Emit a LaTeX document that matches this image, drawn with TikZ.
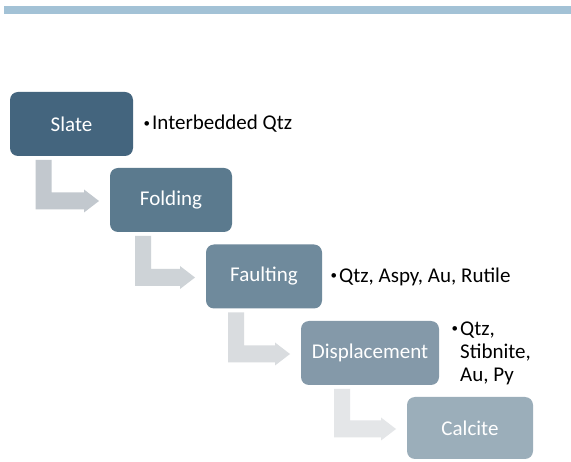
\documentclass[tikz,border=0pt]{standalone}
\usepackage{fontspec}
\setmainfont{Carlito}
\usepackage{xcolor}
\usetikzlibrary{calc,positioning}

\definecolor{topbar}{HTML}{A3C2D6}
\definecolor{stageA}{HTML}{44657E}
\definecolor{stageB}{HTML}{5B7A8E}
\definecolor{stageC}{HTML}{6F8A9C}
\definecolor{stageD}{HTML}{8499A9}
\definecolor{stageE}{HTML}{9BAEBA}
\definecolor{arrowA}{HTML}{C2C8CE}
\definecolor{arrowB}{HTML}{CED3D7}
\definecolor{arrowC}{HTML}{D9DCDF}
\definecolor{arrowD}{HTML}{E4E6E8}

% small list bullet
\newcommand{\mbul}{\raisebox{2.5pt}{\fontsize{13}{13}\selectfont\textbullet}\hspace{2pt}}

% bent step arrow: from box #1 down and across to box #2
\newcommand{\steparrow}[3]{%
  \fill[#3] let \p1=(#1.south), \p2=(#2.west) in
    (\x1-36pt,\y1-4pt) -- (\x1-36pt,\y2-9.5pt) -- (\x2-26pt,\y2-9.5pt)
    -- (\x2-26pt,\y2-12.5pt) -- (\x2-11pt,\y2-1pt) -- (\x2-26pt,\y2+10.5pt)
    -- (\x2-26pt,\y2+7.5pt) -- (\x1-20pt,\y2+7.5pt) -- (\x1-20pt,\y1-4pt) -- cycle;}

\begin{document}
\begin{tikzpicture}[
    x=1pt, y=-1pt,
    stage/.style={rectangle, rounded corners=8pt, minimum height=64pt, inner sep=0pt,
      outer sep=0pt, text=white, font=\fontsize{21}{23}\selectfont},
    note/.style={anchor=west, inner sep=0pt, align=left, font=\fontsize{21}{23}\selectfont}
]
\fill[white] (0,0) rectangle (571,462);
\useasboundingbox (0,0) rectangle (571,462);

% Header bar
\fill[topbar] (4,6) rectangle (571,14);

% Steps
\node[stage, fill=stageA, minimum width=123pt] (slate) at (71.5,124) {Slate};
\node[stage, fill=stageB, minimum width=122pt] (folding) at (171,200) {Folding};
\node[stage, fill=stageC, minimum width=116pt] (faulting) at (264,276.5) {Faulting};
\node[stage, fill=stageD, minimum width=138pt] (displacement) at (370,353) {Displacement};
\node[stage, fill=stageE, minimum width=126pt, minimum height=62pt] (calcite) at (470,428) {Calcite};

\steparrow{slate}{folding}{arrowA}
\steparrow{folding}{faulting}{arrowB}
\steparrow{faulting}{displacement}{arrowC}
\steparrow{displacement}{calcite}{arrowD}

% Minerals
\node[note] (slatenote) at (143.5,124) {\mbul Interbedded Qtz};
\node[note] (faultnote) at (330.5,276.5) {\mbul Qtz, Aspy, Au, Rutile};
\node[note] (dispnote) at (451.5,353) {\mbul Qtz,\\
  \hphantom{\mbul}Stibnite,\\
  \hphantom{\mbul}Au, Py};

\end{tikzpicture}
\end{document}
